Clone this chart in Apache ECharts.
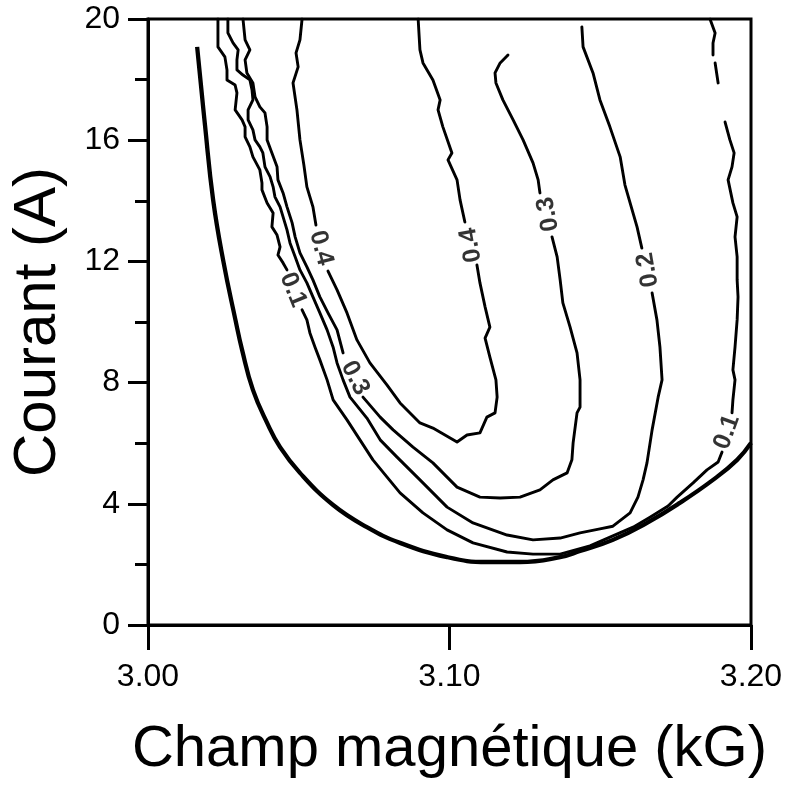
<!DOCTYPE html>
<html><head><meta charset="utf-8">
<script src="https://cdn.jsdelivr.net/npm/echarts@6/dist/echarts.min.js"></script>
<style>html,body{margin:0;padding:0;background:#fff}#c{width:789px;height:786px}</style>
</head><body><div id="c"></div>
<script>
// ---- data (x: magnetic field kG, y: current A) ----
const xTickLabels = ['3.00', '3.10', '3.20'];
const yTickLabels = ['0', '4', '8', '12', '16', '20'];

const thickCurve = [[3.0163,19.08],[3.0189,16.50],[3.0216,14.03],[3.0250,12.00],[3.0290,10.07],[3.0312,9.08],[3.0348,7.76],[3.0395,6.67],[3.0438,5.87],[3.0504,5.02],[3.0614,3.96],[3.0726,3.23],[3.0836,2.71],[3.0992,2.24],[3.1124,2.08],[3.1234,2.08],[3.1367,2.24],[3.1433,2.44],[3.1542,2.81],[3.1655,3.37],[3.1764,4.03],[3.1874,4.79],[3.1954,5.45],[3.2000,6.01]];

const contour01 = [
  [[3.0232,20.0],[3.0232,19.08],[3.0255,18.75],[3.0262,18.32],[3.0262,17.99],[3.0289,17.82],[3.0295,17.56],[3.0289,17.00],[3.0312,16.67],[3.0322,16.44],[3.0322,16.11],[3.0338,15.78],[3.0348,15.45],[3.0371,15.02],[3.0378,14.59],[3.0378,14.36],[3.0395,13.93],[3.0415,13.60],[3.0411,13.14],[3.0428,12.87],[3.0438,12.48],[3.0431,12.21],[3.0448,11.95],[3.0461,11.72]],
  [[3.0511,10.40],[3.0527,10.07],[3.0537,9.64],[3.0554,9.17],[3.0570,8.75],[3.0594,8.09],[3.0614,7.43],[3.0660,6.77],[3.0703,6.11],[3.0746,5.45],[3.0793,4.88],[3.0836,4.36],[3.0912,3.70],[3.0992,3.14],[3.1078,2.71],[3.1191,2.41],[3.1277,2.34],[3.1367,2.34],[3.1466,2.61],[3.1542,2.94],[3.1609,3.23],[3.1665,3.56],[3.1725,3.93],[3.1755,4.22],[3.1808,4.69],[3.1854,5.12],[3.1891,5.38],[3.1904,5.71]],
  [[3.1937,7.00],[3.1940,7.43],[3.1947,8.09],[3.1940,8.42],[3.1947,9.17],[3.1954,10.07],[3.1957,10.83],[3.1954,11.39],[3.1954,12.15],[3.1947,12.81],[3.1954,13.47],[3.1940,13.93],[3.1924,14.69],[3.1937,15.12],[3.1944,15.58],[3.1930,16.01],[3.1914,16.60]],
  [[3.1891,17.89],[3.1881,18.55]],
  [[3.1874,18.81],[3.1874,19.21],[3.1881,19.54],[3.1864,20.0]]
];

const contour02 = [
  [[3.0265,20.0],[3.0265,19.54],[3.0282,19.21],[3.0299,18.98],[3.0295,18.65],[3.0295,18.32],[3.0315,18.15],[3.0338,17.99],[3.0345,17.66],[3.0348,17.33],[3.0332,17.00],[3.0332,16.67],[3.0348,16.34],[3.0355,16.01],[3.0371,15.78],[3.0381,15.58],[3.0388,15.12],[3.0405,14.79],[3.0415,14.46],[3.0421,14.13],[3.0438,13.80],[3.0448,13.47],[3.0461,13.04],[3.0471,12.61],[3.0488,12.15],[3.0504,11.72],[3.0527,11.29],[3.0547,10.83],[3.0570,10.30],[3.0594,9.74],[3.0614,9.17],[3.0627,8.65],[3.0647,8.09],[3.0670,7.52],[3.0726,6.83],[3.0770,6.11],[3.0826,5.54],[3.0902,4.79],[3.0992,3.89],[3.1078,3.37],[3.1191,2.97],[3.1277,2.81],[3.1367,2.87],[3.1433,3.04],[3.1499,3.17],[3.1542,3.26],[3.1599,3.70],[3.1625,4.22],[3.1642,4.79],[3.1655,5.35],[3.1672,6.44],[3.1692,7.52],[3.1705,8.09],[3.1698,9.17],[3.1688,10.07],[3.1672,10.96]],
  [[3.1638,12.44],[3.1622,13.14],[3.1599,13.93],[3.1582,14.52],[3.1566,15.45],[3.1532,16.44],[3.1499,17.33],[3.1476,18.22],[3.1443,19.08],[3.1439,19.74]]
];

const contour03 = [
  [[3.0315,20.0],[3.0322,19.31],[3.0338,18.98],[3.0322,18.65],[3.0328,18.22],[3.0348,17.89],[3.0355,17.43],[3.0371,17.10],[3.0388,16.90],[3.0395,16.44],[3.0395,16.01],[3.0411,15.58],[3.0428,15.12],[3.0431,14.69],[3.0448,14.26],[3.0461,13.80],[3.0478,13.27],[3.0488,12.81],[3.0504,12.28],[3.0527,11.82],[3.0547,11.39],[3.0570,10.83],[3.0597,10.30],[3.0627,9.74],[3.0647,8.98]],
  [[3.0713,7.52],[3.0770,6.86],[3.0813,6.44],[3.0879,5.87],[3.0945,5.35],[3.1025,4.55],[3.1101,4.22],[3.1168,4.19],[3.1234,4.22],[3.1300,4.46],[3.1343,4.79],[3.1390,5.02],[3.1406,5.45],[3.1410,6.01],[3.1423,7.00],[3.1433,7.19],[3.1433,8.09],[3.1423,8.98],[3.1400,9.83],[3.1376,10.63],[3.1367,11.39],[3.1357,12.15],[3.1340,12.81]],
  [[3.1300,14.26],[3.1294,14.69],[3.1277,15.25],[3.1244,16.01],[3.1211,16.67],[3.1177,17.33],[3.1154,17.89],[3.1151,18.22],[3.1168,18.55],[3.1194,18.81]]
];

const contour04 = [
  [[3.0511,20.0],[3.0504,19.31],[3.0491,18.88],[3.0498,18.42],[3.0481,17.89],[3.0494,17.00],[3.0504,16.01],[3.0517,15.18],[3.0527,14.46],[3.0547,13.80],[3.0557,13.20]],
  [[3.0597,11.68],[3.0627,11.06],[3.0660,10.30],[3.0693,9.41],[3.0736,8.65],[3.0793,7.92],[3.0836,7.33],[3.0902,6.67],[3.0945,6.50],[3.1025,6.04],[3.1058,6.27],[3.1101,6.34],[3.1124,6.86],[3.1151,7.00],[3.1158,7.52],[3.1154,8.09],[3.1134,8.84],[3.1118,9.47],[3.1134,9.83],[3.1118,10.50],[3.1101,11.29],[3.1091,11.88]],
  [[3.1051,13.30],[3.1035,14.03],[3.1025,14.69],[3.0995,15.35],[3.1008,15.58],[3.0978,16.44],[3.0962,17.00],[3.0969,17.33],[3.0945,17.99],[3.0912,18.55],[3.0902,18.98],[3.0896,20.0]]
];

const labelPoints = [[3.0574,12.44],[3.0481,11.06],[3.0687,8.15],[3.1071,12.54],[3.1327,13.56],[3.1658,11.72],[3.1920,6.37]];
const labelTexts = ['0.4', '0.1', '0.3', '0.4', '0.3', '0.2', '0.1'];

// ---- styling / chart ----
const labelAngles = [-75, -68, -63, 100, 100, 100, 70];
const chart = echarts.init(document.getElementById('c'), null, {renderer: 'canvas'});
const series = [];
series.push({type: 'line', data: thickCurve, symbol: 'none', smooth: 0.45, silent: true,
  lineStyle: {color: '#000', width: 4.3}, z: 4});
function addContour(segs) {
  segs.forEach(s => series.push({type: 'line', data: s, symbol: 'none', silent: true,
    lineStyle: {color: '#000', width: 2.9, join: 'round', cap: 'round'}, z: 3}));
}
[contour01, contour02, contour03, contour04].forEach(addContour);
series.push({
  type: 'scatter', silent: true, symbol: 'circle', symbolSize: 1, z: 5,
  itemStyle: {color: 'rgba(0,0,0,0)'},
  label: {show: true, position: 'inside', fontSize: 25, fontWeight: 'bold',
    fontFamily: 'Liberation Sans', color: '#000'},
  data: labelPoints.map((p, i) => ({
    value: p,
    label: {formatter: labelTexts[i], rotate: labelAngles[i]}
  }))
});

const axisLineStyle = {color: '#000', width: 3};
chart.setOption({
  animation: false,
  backgroundColor: '#fff',
  grid: {left: 148, right: 38, top: 19, bottom: 161, show: true, borderColor: '#000', borderWidth: 3, backgroundColor: 'transparent'},
  xAxis: {
    type: 'value', min: 3.0, max: 3.2, interval: 0.1,
    name: 'Champ magnétique (kG)', nameLocation: 'middle', nameGap: 96,
    nameTextStyle: {fontSize: 58, fontFamily: 'Liberation Sans', color: '#000'},
    axisLine: {show: true, onZero: false, lineStyle: axisLineStyle},
    axisTick: {show: true, inside: false, length: 25, lineStyle: axisLineStyle},
    axisLabel: {margin: 36, fontSize: 32, fontFamily: 'Liberation Sans', color: '#000',
      formatter: v => xTickLabels[Math.round((v - 3.0) / 0.1)] || ''},
    splitLine: {show: false}
  },
  yAxis: {
    type: 'value', min: 0, max: 20, interval: 4,
    name: 'Courant (A)', nameLocation: 'middle', nameGap: 80,
    nameTextStyle: {fontSize: 60, fontFamily: 'Liberation Sans', color: '#000'},
    axisLine: {show: true, onZero: false, lineStyle: axisLineStyle},
    axisTick: {show: true, inside: false, length: 20, lineStyle: axisLineStyle},
    minorTick: {show: true, splitNumber: 2, length: 13, lineStyle: axisLineStyle},
    axisLabel: {margin: 28, fontSize: 32, fontFamily: 'Liberation Sans', color: '#000',
      formatter: v => yTickLabels[Math.round(v / 4)] || ''},
    splitLine: {show: false}, minorSplitLine: {show: false}
  },
  series: series
});
</script></body></html>
